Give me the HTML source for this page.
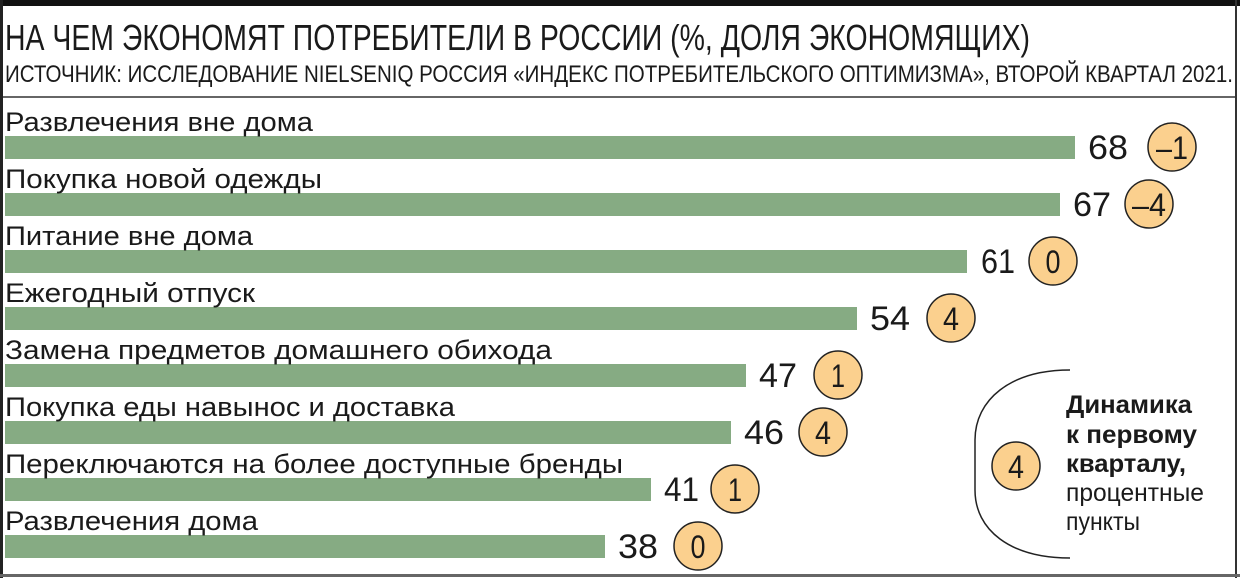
<!DOCTYPE html>
<html><head><meta charset="utf-8"><style>
html,body{margin:0;padding:0;background:#fff}
svg{display:block}
text{font-family:"Liberation Sans",sans-serif;fill:#1a1a1a}
</style></head><body>
<svg width="1240" height="578" viewBox="0 0 1240 578" xmlns="http://www.w3.org/2000/svg">
<rect x="0" y="0" width="1240" height="578" fill="#fff"/>
<rect x="0" y="0" width="1240" height="6" fill="#111"/>
<rect x="0" y="0" width="3" height="578" fill="#222"/>
<rect x="1235" y="0" width="2" height="578" fill="#333"/>
<rect x="0" y="574" width="1240" height="3" fill="#666"/>
<rect x="3" y="96" width="1232" height="2" fill="#666"/>
<text x="5" y="50" font-size="36" textLength="1025" lengthAdjust="spacingAndGlyphs">НА ЧЕМ ЭКОНОМЯТ ПОТРЕБИТЕЛИ В РОССИИ (%, ДОЛЯ ЭКОНОМЯЩИХ)</text>
<text x="5" y="82" font-size="24" textLength="1228" lengthAdjust="spacingAndGlyphs">ИСТОЧНИК: ИССЛЕДОВАНИЕ NIELSENIQ РОССИЯ «ИНДЕКС ПОТРЕБИТЕЛЬСКОГО ОПТИМИЗМА», ВТОРОЙ КВАРТАЛ 2021.</text>
<g fill="#86ab83">
<rect x="5" y="136" width="1070" height="23"/>
<rect x="5" y="193" width="1055" height="23"/>
<rect x="5" y="250" width="962" height="23"/>
<rect x="5" y="307" width="852" height="23"/>
<rect x="5" y="364" width="741" height="23"/>
<rect x="5" y="421" width="726" height="23"/>
<rect x="5" y="478" width="646" height="23"/>
<rect x="5" y="535" width="600" height="23"/>
</g>
<g font-size="27">
<text x="5" y="131" textLength="308" lengthAdjust="spacingAndGlyphs">Развлечения вне дома</text>
<text x="5" y="188" textLength="317" lengthAdjust="spacingAndGlyphs">Покупка новой одежды</text>
<text x="5" y="245" textLength="248" lengthAdjust="spacingAndGlyphs">Питание вне дома</text>
<text x="5" y="302" textLength="250" lengthAdjust="spacingAndGlyphs">Ежегодный отпуск</text>
<text x="5" y="359" textLength="547" lengthAdjust="spacingAndGlyphs">Замена предметов домашнего обихода</text>
<text x="5" y="416" textLength="450" lengthAdjust="spacingAndGlyphs">Покупка еды навынос и доставка</text>
<text x="5" y="473" textLength="618" lengthAdjust="spacingAndGlyphs">Переключаются на более доступные бренды</text>
<text x="5" y="530" textLength="253" lengthAdjust="spacingAndGlyphs">Развлечения дома</text>
</g>
<g font-size="34">
<text x="1088" y="159" textLength="40" lengthAdjust="spacingAndGlyphs">68</text>
<text x="1073" y="216" textLength="38" lengthAdjust="spacingAndGlyphs">67</text>
<text x="981" y="273" textLength="34" lengthAdjust="spacingAndGlyphs">61</text>
<text x="870" y="330" textLength="40" lengthAdjust="spacingAndGlyphs">54</text>
<text x="759" y="387" textLength="38" lengthAdjust="spacingAndGlyphs">47</text>
<text x="744" y="444" textLength="40" lengthAdjust="spacingAndGlyphs">46</text>
<text x="664" y="501" textLength="35" lengthAdjust="spacingAndGlyphs">41</text>
<text x="618" y="558" textLength="40" lengthAdjust="spacingAndGlyphs">38</text>
</g>
<g fill="#fbd08e" stroke="#222" stroke-width="1.5">
<circle cx="1172" cy="147" r="24"/>
<circle cx="1149" cy="204" r="24"/>
<circle cx="1053" cy="261" r="24"/>
<circle cx="951" cy="318" r="24"/>
<circle cx="838" cy="375" r="24"/>
<circle cx="823" cy="432" r="24"/>
<circle cx="735" cy="489" r="24"/>
<circle cx="698" cy="546" r="24"/>
<circle cx="1016" cy="466" r="24"/>
</g>
<g font-size="32" text-anchor="middle">
<text x="1172" y="159" textLength="32" lengthAdjust="spacingAndGlyphs">–1</text>
<text x="1149" y="216" textLength="34" lengthAdjust="spacingAndGlyphs">–4</text>
<text x="1053" y="273" textLength="15" lengthAdjust="spacingAndGlyphs">0</text>
<text x="951" y="330" textLength="16" lengthAdjust="spacingAndGlyphs">4</text>
<text x="838" y="387" textLength="14" lengthAdjust="spacingAndGlyphs">1</text>
<text x="823" y="444" textLength="16" lengthAdjust="spacingAndGlyphs">4</text>
<text x="735" y="501" textLength="14" lengthAdjust="spacingAndGlyphs">1</text>
<text x="698" y="558" textLength="15" lengthAdjust="spacingAndGlyphs">0</text>
<text x="1016" y="478" textLength="16" lengthAdjust="spacingAndGlyphs">4</text>
</g>
<path d="M1070 370 C1010 370 975 400 975 440 L975 490 C975 530 1010 558 1070 558" fill="none" stroke="#222" stroke-width="1.5"/>
<g font-size="25">
<text x="1066" y="413" font-weight="bold" textLength="126" lengthAdjust="spacingAndGlyphs">Динамика</text>
<text x="1066" y="443" font-weight="bold" textLength="131" lengthAdjust="spacingAndGlyphs">к первому</text>
<text x="1066" y="472" font-weight="bold" textLength="120" lengthAdjust="spacingAndGlyphs">кварталу,</text>
<text x="1066" y="501" textLength="138" lengthAdjust="spacingAndGlyphs">процентные</text>
<text x="1066" y="530" textLength="74" lengthAdjust="spacingAndGlyphs">пункты</text>
</g>
</svg>
</body></html>
